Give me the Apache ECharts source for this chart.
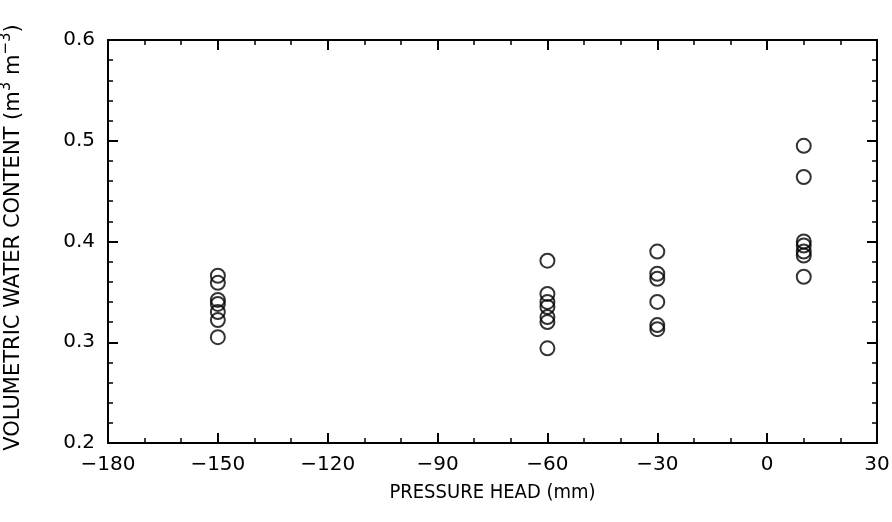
<!DOCTYPE html>
<html>
<head>
<meta charset="utf-8">
<script src="https://cdn.jsdelivr.net/npm/echarts@6/dist/echarts.min.js"></script>
<style>
  html, body { margin: 0; padding: 0; background: #fff; }
  #chart { width: 892px; height: 522px; }
</style>
</head>
<body>
<div id="chart"></div>
<script>
// pressure head (mm) of each measurement group
var heads = [-150, -60, -30, 10];
// volumetric water content, one list per pressure head
var theta150 = [0.366, 0.359, 0.342, 0.338, 0.330, 0.322, 0.305];
var theta60 = [0.381, 0.348, 0.340, 0.335, 0.325, 0.320, 0.294];
var theta30 = [0.390, 0.368, 0.363, 0.340, 0.317, 0.313];
var theta10 = [0.495, 0.464, 0.400, 0.396, 0.390, 0.386, 0.365];

var groups = [theta150, theta60, theta30, theta10];
var points = [];
groups.forEach(function (g, i) {
  g.forEach(function (v) { points.push([heads[i], v]); });
});

var font = 'DejaVu Sans, sans-serif';
var nameFont = 'DejaVu Sans Condensed, DejaVu Sans, sans-serif';
function minus(v) { return String(v).replace('-', '\u2212'); }

var lineStyle = { color: '#000', width: 2 };
var tick = { inside: true, length: 10, lineStyle: { color: '#000', width: 2 } };
var minorX = { show: true, splitNumber: 3, length: 5, lineStyle: { color: '#000', width: 1.5 } };
var minorY = { show: true, splitNumber: 5, length: 5, lineStyle: { color: '#000', width: 1.5 } };

var chart = echarts.init(document.getElementById('chart'));
chart.setOption({
  backgroundColor: '#fff',
  animation: false,
  grid: { left: 108, right: 15, top: 40, bottom: 79, outerBoundsMode: 'none', containLabel: false },
  xAxis: [{
    type: 'value', min: -180, max: 30, interval: 30,
    name: 'PRESSURE HEAD (mm)', nameLocation: 'middle', nameGap: 40,
    nameTextStyle: { fontFamily: nameFont, fontSize: 20, color: '#000' },
    axisLine: { onZero: false, lineStyle: lineStyle }, axisTick: tick, minorTick: minorX,
    splitLine: { show: false },
    axisLabel: { fontFamily: font, fontSize: 20, color: '#000', margin: 12, formatter: minus }
  }, {
    type: 'value', position: 'top', min: -180, max: 30, interval: 30,
    axisLine: { show: true, onZero: false, lineStyle: lineStyle }, axisTick: tick, minorTick: minorX,
    splitLine: { show: false }, axisLabel: { show: false }
  }],
  yAxis: [{
    type: 'value', min: 0.2, max: 0.6, interval: 0.1,
    name: 'VOLUMETRIC WATER CONTENT (m{sup|3} m{sup|\u22123})',
    nameLocation: 'middle', nameGap: 80,
    nameTextStyle: {
      fontFamily: font, fontSize: 21, color: '#000', padding: [0, 0, 0, 8],
      rich: { sup: { fontFamily: font, fontSize: 15, color: '#000', verticalAlign: 'top', padding: [0, 0, 14, 0] } }
    },
    axisLine: { onZero: false, lineStyle: lineStyle }, axisTick: tick, minorTick: minorY,
    splitLine: { show: false },
    axisLabel: { fontFamily: font, fontSize: 20, color: '#000', margin: 13, formatter: function (v) { return v.toFixed(1); } }
  }, {
    type: 'value', position: 'right', min: 0.2, max: 0.6, interval: 0.1,
    axisLine: { show: true, onZero: false, lineStyle: lineStyle }, axisTick: tick, minorTick: minorY,
    splitLine: { show: false }, axisLabel: { show: false }
  }],
  series: [{
    type: 'scatter',
    data: points,
    symbol: 'circle',
    symbolSize: 14,
    itemStyle: { color: 'rgba(255,255,255,0)', borderColor: '#000', borderWidth: 2 }
  }]
});
</script>
</body>
</html>
